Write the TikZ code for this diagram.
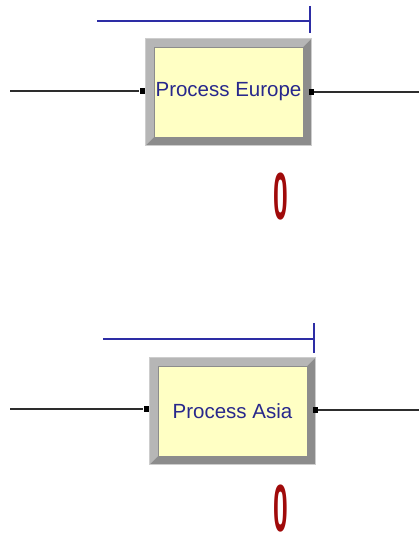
\documentclass[tikz,border=0pt]{standalone}
\usepackage{fontspec}
\setmainfont{Liberation Sans}
\usetikzlibrary{calc,backgrounds}
\definecolor{boxfill}{RGB}{255,255,196}
\definecolor{bevlight}{RGB}{182,182,182}
\definecolor{bevdark}{RGB}{140,140,140}
\definecolor{bevedge}{RGB}{205,205,205}
\definecolor{labelblue}{RGB}{40,40,140}
\definecolor{queueblue}{RGB}{45,45,165}
\definecolor{countred}{RGB}{160,10,10}
\definecolor{linkgray}{RGB}{45,45,45}
\tikzset{
  procbox/.style={fill=boxfill, draw=bevdark, line width=0.4pt,
    minimum width=149pt, minimum height=90pt, inner sep=0pt,
    text=labelblue, font=\fontsize{20.5}{23}\selectfont},
  port/.style={fill=black, draw=none, minimum width=5pt, minimum height=6pt, inner sep=0pt},
  link/.style={draw=linkgray, line width=1.6pt},
  queue/.style={draw=queueblue, line width=1.6pt},
  counter/.style={text=countred, inner sep=0pt,
    font=\fontsize{23}{23}\selectfont\bfseries}
}
% beveled frame around a process node: #1 = node name
\newcommand{\bevelframe}[1]{%
  \begin{scope}[on background layer]
    \coordinate (#1-onw) at ($(#1.north west)+(-8,-8)$);
    \coordinate (#1-ose) at ($(#1.south east)+(8,8)$);
    \coordinate (#1-one) at ($(#1.north east)+(8,-8)$);
    \coordinate (#1-osw) at ($(#1.south west)+(-8,8)$);
    \fill[bevdark] (#1-onw) rectangle (#1-ose);
    \fill[bevlight] (#1-onw) -- (#1-one) -- (#1.north east) -- (#1.north west)
      -- (#1.south west) -- (#1-osw) -- cycle;
    \draw[bevedge, line width=1pt] (#1-onw) rectangle (#1-ose);
  \end{scope}}
\begin{document}
\begin{tikzpicture}[x=1pt,y=-1pt]
\useasboundingbox (0,0) rectangle (419,535);

% --- Process Europe ---
\node[procbox] (europe) at (228.5,92) {Process Europe};
\bevelframe{europe}
\draw[queue] (97,21) coordinate (eq0) -- (310,21) coordinate (eq1);
\draw[queue] (310,6) coordinate (et0) -- (310,33) coordinate (et1);
\node[port] (ein) at (142,91) {};
\node[port] (eout) at (311.5,92) {};
\coordinate (esrc) at (10,91);
\coordinate (edst) at (419,92);
\draw[link] (esrc) -- (ein);
\draw[link] (eout) -- (edst);
\node[counter] (ecount) at (281,197) {\scalebox{1.15}[2.9]{0}};

% --- Process Asia ---
\node[procbox] (asia) at (232.5,411) {Process Asia};
\bevelframe{asia}
\draw[queue] (103,339) coordinate (aq0) -- (314,339) coordinate (aq1);
\draw[queue] (314,323) coordinate (at0) -- (314,353) coordinate (at1);
\node[port] (ain) at (146,409) {};
\node[port] (aout) at (315.5,410) {};
\coordinate (asrc) at (10,409);
\coordinate (adst) at (419,410);
\draw[link] (asrc) -- (ain);
\draw[link] (aout) -- (adst);
\node[counter] (acount) at (281,509) {\scalebox{1.15}[2.9]{0}};
\end{tikzpicture}
\end{document}
